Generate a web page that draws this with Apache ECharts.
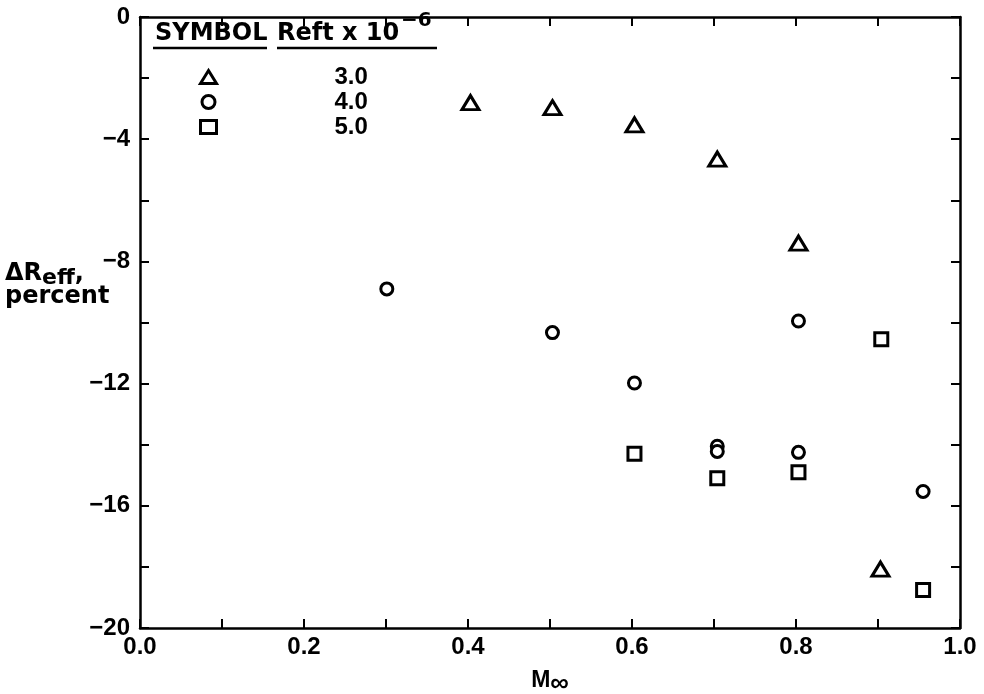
<!DOCTYPE html>
<html>
<head>
<meta charset="utf-8">
<script src="https://cdn.jsdelivr.net/npm/echarts@6/dist/echarts.min.js"></script>
<style>
  html, body { margin: 0; padding: 0; background: #fff; }
  #chart { width: 984px; height: 694px; }
</style>
</head>
<body>
<div id="chart"></div>
<script>
// Change in effective Reynolds number vs free-stream Mach number
const reynoldsNames = ['3.0', '4.0', '5.0'];           // Reft x 10^-6
const markerShapes  = ['triangle', 'circle', 'rect'];

// [M∞, ΔReff percent]
const re30 = [[0.403, -2.80], [0.503, -2.97], [0.603, -3.53], [0.704, -4.65], [0.803, -7.40], [0.903, -18.07]];
const re40 = [[0.301, -8.90], [0.503, -10.33], [0.603, -11.98], [0.704, -14.05], [0.704, -14.22],
              [0.803, -9.95], [0.803, -14.25], [0.955, -15.53]];
const re50 = [[0.603, -14.30], [0.704, -15.10], [0.803, -14.90], [0.904, -10.55], [0.955, -18.76]];

const xTickLabels = ['0.0', '0.2', '0.4', '0.6', '0.8', '1.0'];
const yTickLabels = ['0', '\u22124', '\u22128', '\u221212', '\u221216', '\u221220'];

const NUM_FONT = '"Liberation Sans", Arial, sans-serif';
const TXT_FONT = '"DejaVu Sans", sans-serif';
const chart = echarts.init(document.getElementById('chart'), null, { renderer: 'canvas' });

const axisLine = { show: true, onZero: false, lineStyle: { color: '#000', width: 2.5 } };
const axisTick = { show: true, inside: true, length: 9, lineStyle: { color: '#000', width: 2 } };

function xLabel(v) {
  const k = Math.round(v * 10);
  return k % 2 === 0 ? xTickLabels[k / 2] : '';
}
function yLabel(v) {
  const k = Math.round(-v);
  return k % 4 === 0 ? yTickLabels[k / 4] : '';
}

const sizes = { triangle: [17, 14], circle: 12, rect: 13 };
const seriesData = [re30, re40, re50];

chart.setOption({
  animation: false,
  backgroundColor: '#fff',
  grid: { left: 140, right: 24, top: 17, bottom: 66, containLabel: false, outerBoundsMode: 'none' },
  xAxis: [
    {
      type: 'value', min: 0, max: 1, interval: 0.1, position: 'bottom',
      axisLine, axisTick, splitLine: { show: false },
      axisLabel: { formatter: xLabel, color: '#000', fontFamily: NUM_FONT, fontWeight: 'bold', fontSize: 24, margin: 7 },
      name: '{m|M}{i|\u221e}', nameLocation: 'middle', nameGap: 37,
      nameTextStyle: {
        rich: {
          m: { fontFamily: NUM_FONT, fontWeight: 'bold', fontSize: 23, color: '#000' },
          i: { fontFamily: NUM_FONT, fontWeight: 'bold', fontSize: 26, color: '#000', padding: [6, 0, 0, 0] }
        }
      }
    },
    {
      type: 'value', min: 0, max: 1, interval: 0.1, position: 'top',
      axisLine, axisTick, axisLabel: { show: false }, splitLine: { show: false }
    }
  ],
  yAxis: [
    {
      type: 'value', min: -20, max: 0, interval: 2, position: 'left',
      axisLine, axisTick, splitLine: { show: false },
      axisLabel: { formatter: yLabel, color: '#000', fontFamily: NUM_FONT, fontWeight: 'bold', fontSize: 24, margin: 10 }
    },
    {
      type: 'value', min: -20, max: 0, interval: 2, position: 'right',
      axisLine, axisTick, axisLabel: { show: false }, splitLine: { show: false }
    }
  ],
  legend: {
    orient: 'vertical', left: 199, top: 65, padding: 0,
    itemWidth: 16, itemHeight: 13, itemGap: 1,
    data: reynoldsNames.map((n, i) => ({ name: n, icon: markerShapes[i] })),
    textStyle: { color: '#000', fontFamily: NUM_FONT, fontWeight: 'bold', fontSize: 24, lineHeight: 14, padding: [0, 0, 0, 113] },
    itemStyle: { color: '#fff', borderColor: '#000', borderWidth: 3 }
  },
  graphic: [
    {
      type: 'text', left: 155, top: 22,
      style: { text: 'SYMBOL', fill: '#000', font: 'bold 24px ' + TXT_FONT }
    },
    {
      type: 'text', left: 277, top: 22,
      style: { text: 'Reft x 10', fill: '#000', font: 'bold 24px ' + TXT_FONT }
    },
    {
      type: 'text', left: 401, top: 11,
      style: { text: '\u22126', fill: '#000', font: 'bold 20px ' + TXT_FONT }
    },
    { type: 'line', shape: { x1: 153, y1: 48, x2: 267, y2: 48 }, style: { stroke: '#000', lineWidth: 2.5 } },
    { type: 'line', shape: { x1: 277, y1: 48, x2: 437, y2: 48 }, style: { stroke: '#000', lineWidth: 2.5 } },
    {
      type: 'text', left: 5, top: 258,
      style: {
        text: '{a|\u0394R}{s|eff}{a|,}\n{a|percent}',
        rich: {
          a: { fill: '#000', fontFamily: TXT_FONT, fontWeight: 'bold', fontSize: 24, lineHeight: 23 },
          s: { fill: '#000', fontFamily: TXT_FONT, fontWeight: 'bold', fontSize: 22, lineHeight: 23, padding: [9, 0, 0, 0] }
        }
      }
    }
  ],
  series: seriesData.map((d, i) => ({
    name: reynoldsNames[i],
    type: 'scatter',
    symbol: markerShapes[i],
    symbolSize: sizes[markerShapes[i]],
    data: d,
    itemStyle: { color: '#fff', borderColor: '#000', borderWidth: 3, opacity: 1 },
    emphasis: { disabled: true }
  }))
});
</script>
</body>
</html>
